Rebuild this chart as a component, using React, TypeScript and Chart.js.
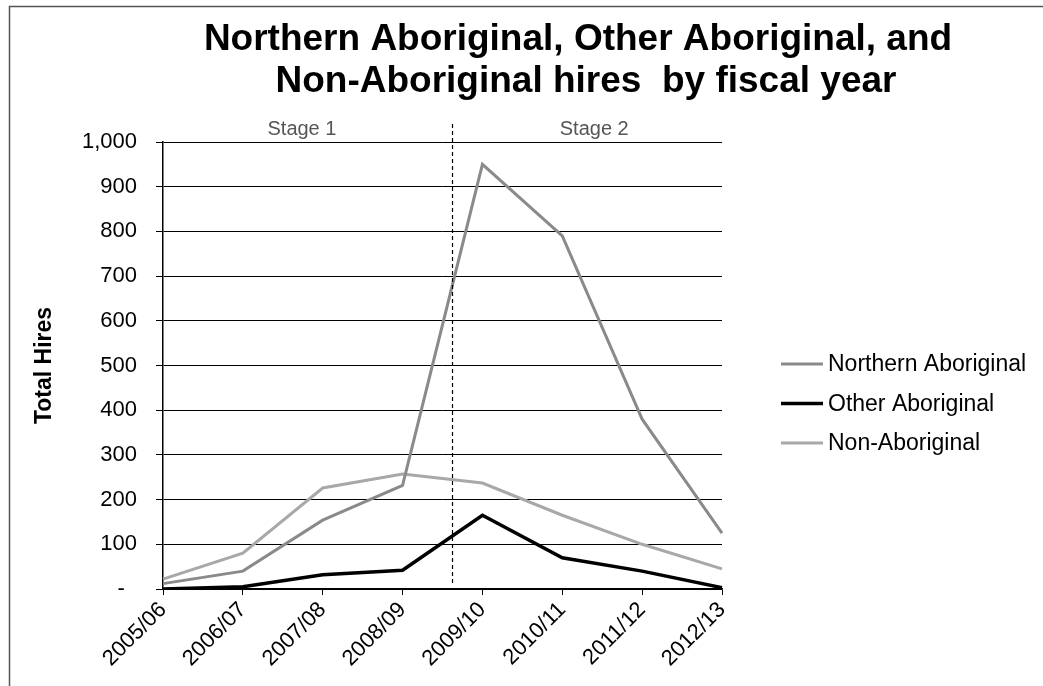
import React, { useEffect, useRef } from "react";
import { Chart, registerables } from "chart.js";

Chart.register(...registerables);

const categories = ["2005/06", "2006/07", "2007/08", "2008/09", "2009/10", "2010/11", "2011/12", "2012/13"];
const northernAboriginal = [12, 40, 154, 232, 950, 790, 380, 125];
const otherAboriginal = [0, 5, 32, 42, 165, 70, 40, 3];
const nonAboriginal = [22, 80, 226, 257, 237, 165, 100, 45];
const seriesNames = ["Northern Aboriginal", "Other Aboriginal", "Non-Aboriginal"];
const yMin = 0;
const yMax = 1000;
const yStep = 100;
const titleLines = ["Northern Aboriginal, Other Aboriginal, and", "Non-Aboriginal hires  by fiscal year"];
const yAxisTitle = "Total Hires";
const stageLabels = ["Stage 1", "Stage 2"];
const stageLabelAt = [1.74, 5.4];
const stageSplitAt = 3.625;

const FONT = '"Liberation Sans", Arial, sans-serif';

const decorPlugin = {
  id: "decor",
  beforeDraw(chart: any) {
    const ctx = chart.ctx;
    ctx.save();
    ctx.fillStyle = "#fff";
    ctx.fillRect(0, 0, chart.width, chart.height);
    // frame
    ctx.strokeStyle = "#555";
    ctx.lineWidth = 1.5;
    ctx.beginPath();
    ctx.moveTo(9.5, chart.height);
    ctx.lineTo(9.5, 6.5);
    ctx.lineTo(chart.width, 6.5);
    ctx.stroke();
    ctx.restore();
  },
  afterDraw(chart: any) {
    const ctx = chart.ctx;
    const area = chart.chartArea;
    const x = chart.scales.x;
    ctx.save();
    // title
    ctx.fillStyle = "#000";
    ctx.font = `bold 37px ${FONT}`;
    ctx.textAlign = "center";
    ctx.textBaseline = "alphabetic";
    ctx.fillText(titleLines[0], 578, 50);
    ctx.fillText(titleLines[1], 586, 92);
    // stage labels
    ctx.font = `20px ${FONT}`;
    ctx.fillStyle = "#555";
    stageLabels.forEach((s, i) => {
      ctx.fillText(s, x.getPixelForValue(stageLabelAt[i]), 135);
    });
    // dashed separator
    const p3 = x.getPixelForValue(Math.floor(stageSplitAt));
    const p4 = x.getPixelForValue(Math.ceil(stageSplitAt));
    const sx = Math.round(p3 + (p4 - p3) * (stageSplitAt - Math.floor(stageSplitAt))) + 0.5;
    ctx.strokeStyle = "#000";
    ctx.lineWidth = 1.2;
    ctx.setLineDash([4, 3]);
    ctx.beginPath();
    ctx.moveTo(sx, 124);
    ctx.lineTo(sx, area.bottom - 4);
    ctx.stroke();
    ctx.setLineDash([]);
    // legend
    ctx.font = `23px ${FONT}`;
    ctx.textAlign = "left";
    ctx.textBaseline = "middle";
    chart.data.datasets.forEach((ds: any, i: number) => {
      const y = 364 + i * 39.5;
      ctx.strokeStyle = ds.borderColor;
      ctx.lineWidth = ds.borderWidth;
      ctx.beginPath();
      ctx.moveTo(781, y);
      ctx.lineTo(823, y);
      ctx.stroke();
      ctx.fillStyle = "#000";
      ctx.fillText(ds.label, 828, y + 1);
    });
    ctx.restore();
  },
};

export default function App() {
  const canvasRef = useRef<HTMLCanvasElement | null>(null);

  useEffect(() => {
    if (!canvasRef.current) return;
    const chart = new Chart(canvasRef.current, {
      type: "line",
      data: {
        labels: categories,
        datasets: [
          {
            label: seriesNames[0],
            data: northernAboriginal,
            borderColor: "#8a8a8a",
            borderWidth: 3,
            pointRadius: 0,
            tension: 0,
            fill: false,
          },
          {
            label: seriesNames[1],
            data: otherAboriginal,
            borderColor: "#000000",
            borderWidth: 3.5,
            pointRadius: 0,
            tension: 0,
            fill: false,
          },
          {
            label: seriesNames[2],
            data: nonAboriginal,
            borderColor: "#a8a8a8",
            borderWidth: 3,
            pointRadius: 0,
            tension: 0,
            fill: false,
          },
        ],
      },
      options: {
        responsive: true,
        maintainAspectRatio: false,
        animation: false,
        layout: { padding: { left: 27, top: 142, right: 321, bottom: 0 } },
        plugins: {
          legend: { display: false },
          title: { display: false },
          tooltip: { enabled: false },
        },
        scales: {
          x: {
            offset: false,
            afterFit(scale: any) {
              scale.height = 97;
            },
            grid: {
              drawOnChartArea: false,
              drawTicks: true,
              tickLength: 6,
              color: "#000",
            },
            border: { display: true, color: "#000", width: 1.5 },
            ticks: {
              color: "#000",
              font: { family: FONT, size: 22 },
              minRotation: 45,
              maxRotation: 45,
              padding: 2,
              autoSkip: false,
            },
          },
          y: {
            min: yMin,
            max: yMax,
            afterFit(scale: any) {
              scale.width = 163 - 27;
            },
            title: {
              display: true,
              text: yAxisTitle,
              color: "#000",
              font: { family: FONT, size: 23, weight: "bold" },
              padding: { top: 4, bottom: 4 },
            },
            grid: {
              color: "#000",
              lineWidth: 1,
              tickLength: 7,
              drawTicks: true,
            },
            border: { display: true, color: "#000", width: 1.5 },
            ticks: {
              stepSize: yStep,
              color: "#000",
              padding: 19,
              font: { family: FONT, size: 22 },
              callback: (v: any) => (Number(v) === 0 ? "-  " : Number(v).toLocaleString("en-US")),
            },
          },
        },
      },
      plugins: [decorPlugin],
    });
    return () => chart.destroy();
  }, []);

  return (
    <div style={{ position: "fixed", left: 0, top: 0, width: 1043, height: 686, background: "#fff" }}>
      <canvas ref={canvasRef} />
    </div>
  );
}
